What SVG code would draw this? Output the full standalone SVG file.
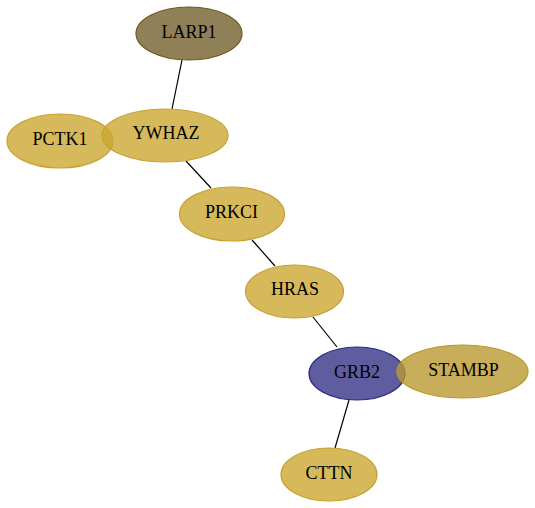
<svg xmlns="http://www.w3.org/2000/svg" width="535" height="508" viewBox="0 0 535 508">
<style>
.e{stroke:#000;stroke-width:1.2;fill:none}
.n{stroke-width:1.2;fill-opacity:0.8}
.gold{fill:#cca831;stroke:#c9a030}
.t{font-family:"Liberation Serif","Times New Roman",serif;font-size:18px;text-anchor:middle;fill:#000}
</style>
<rect width="535" height="508" fill="#fff"/>
<g id="edges">
<line class="e" x1="182" y1="60" x2="172" y2="109"/>
<line class="e" x1="186" y1="161" x2="211" y2="188"/>
<line class="e" x1="252" y1="240" x2="275" y2="266"/>
<line class="e" x1="313" y1="317" x2="337" y2="347"/>
<line class="e" x1="349" y1="400" x2="335" y2="448"/>
</g>
<g id="LARP1">
<ellipse class="n" cx="189" cy="33.5" rx="53" ry="26.5" fill="#73602e" stroke="#6e5a20"/>
<text class="t" x="189" y="38">LARP1</text>
</g>
<g id="PCTK1">
<ellipse class="n gold" cx="60" cy="141" rx="53" ry="27"/>
<text class="t" x="60" y="145">PCTK1</text>
</g>
<g id="YWHAZ">
<ellipse class="n gold" cx="165" cy="135.5" rx="63" ry="26.5"/>
<text class="t" x="166" y="139">YWHAZ</text>
</g>
<g id="PRKCI">
<ellipse class="n gold" cx="232" cy="214" rx="52.5" ry="27"/>
<text class="t" x="231.5" y="218">PRKCI</text>
</g>
<g id="HRAS">
<ellipse class="n gold" cx="294.5" cy="291.5" rx="49" ry="26.5"/>
<text class="t" x="295" y="295">HRAS</text>
</g>
<g id="GRB2">
<ellipse class="n" cx="357" cy="373.5" rx="48" ry="26.5" fill="#373387" stroke="#2a2a80"/>
<text class="t" x="357" y="377.5">GRB2</text>
</g>
<g id="STAMBP">
<ellipse class="n" cx="462.5" cy="371.5" rx="65.5" ry="26.5" fill="#ba9931" stroke="#b8982a"/>
<text class="t" x="463.5" y="375.5">STAMBP</text>
</g>
<g id="CTTN">
<ellipse class="n gold" cx="329" cy="474.5" rx="48" ry="26.5"/>
<text class="t" x="329" y="479">CTTN</text>
</g>
</svg>
